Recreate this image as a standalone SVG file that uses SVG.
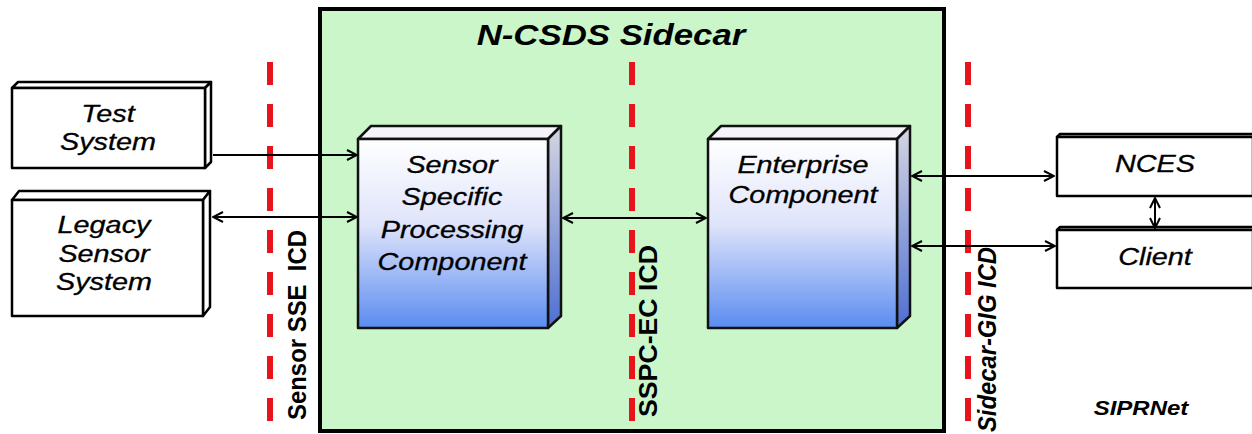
<svg xmlns="http://www.w3.org/2000/svg" width="1252" height="434" viewBox="0 0 1252 434">
  <defs>
    <linearGradient id="faceGrad" x1="0" y1="0" x2="0" y2="1">
      <stop offset="0" stop-color="#ffffff"/>
      <stop offset="0.45" stop-color="#dfe4fa"/>
      <stop offset="1" stop-color="#5a8cf0"/>
    </linearGradient>
    <linearGradient id="sideGrad" x1="0" y1="0" x2="0" y2="1">
      <stop offset="0" stop-color="#d6d6e2"/>
      <stop offset="1" stop-color="#4e6fd2"/>
    </linearGradient>
    <marker id="arrow" viewBox="0 0 12 12" refX="11" refY="6" markerWidth="12" markerHeight="12" markerUnits="userSpaceOnUse" orient="auto-start-reverse">
      <path d="M1,1 L11,6 L1,11" fill="none" stroke="#000" stroke-width="2"/>
    </marker>
    <style>
      .box { fill: #ffffff; stroke: #000; stroke-width: 2.5; stroke-linejoin: round; }
      .comp { fill: url(#faceGrad); stroke: #111; stroke-width: 2.5; stroke-linejoin: round; }
      .compTop { fill: #f4f4fa; stroke: #111; stroke-width: 2.5; stroke-linejoin: round; }
      .compSide { fill: url(#sideGrad); stroke: #111; stroke-width: 2.5; stroke-linejoin: round; }
      .lbl { font-family: "Liberation Sans", Arial, sans-serif; font-style: italic; font-size: 24px; text-anchor: middle; fill: #000; stroke: #000; stroke-width: 0.3; }
      .title { font-family: "Liberation Sans", Arial, sans-serif; font-style: italic; font-weight: bold; font-size: 29px; text-anchor: middle; fill: #000; }
      .icd { font-family: "Liberation Sans", Arial, sans-serif; font-weight: bold; font-size: 22px; fill: #000; }
      .icdi { font-family: "Liberation Sans", Arial, sans-serif; font-weight: bold; font-style: italic; font-size: 22px; fill: #000; }
      .net { font-family: "Liberation Sans", Arial, sans-serif; font-weight: bold; font-style: italic; font-size: 20px; text-anchor: middle; fill: #000; }
      .dash { stroke: #e8141c; stroke-width: 6; stroke-dasharray: 23 19; fill: none; }
      .conn { stroke: #000; stroke-width: 2; fill: none; marker-end: url(#arrow); }
      .both { marker-start: url(#arrow); }
    </style>
  </defs>

  <rect width="1252" height="434" fill="#ffffff"/>

  <!-- Sidecar container -->
  <g id="sidecar">
    <rect x="320" y="9" width="624" height="422" fill="#caf6ca" stroke="#000" stroke-width="4"/>
    <text class="title" transform="translate(611,45) scale(1.2,1)">N-CSDS Sidecar</text>
  </g>

  <!-- Interface boundaries -->
  <g id="boundaries">
    <line class="dash" x1="270" y1="62" x2="270" y2="421"/>
    <line class="dash" x1="632" y1="62" x2="632" y2="421"/>
    <line class="dash" x1="968" y1="62" x2="968" y2="421"/>
    <text class="icd" transform="translate(306,420) scale(1.2,1) rotate(-90)" xml:space="preserve" textLength="190" lengthAdjust="spacingAndGlyphs">Sensor SSE  ICD</text>
    <text class="icd" transform="translate(657,417) scale(1.2,1) rotate(-90)" textLength="172" lengthAdjust="spacingAndGlyphs">SSPC-EC ICD</text>
    <text class="icdi" transform="translate(996,432) scale(1.2,1) rotate(-90)" textLength="185" lengthAdjust="spacingAndGlyphs">Sidecar-GIG ICD</text>
  </g>

  <g id="test-system">
    <polygon class="box" points="12,88 18,82 211,82 205,88"/>
    <polygon class="box" points="205,88 211,82 211,162 205,168"/>
    <rect class="box" x="12" y="88" width="193" height="80"/>
    <text class="lbl" transform="translate(108,122) scale(1.2,1)">Test</text>
    <text class="lbl" transform="translate(108,150) scale(1.2,1)">System</text>
  </g>

  <g id="legacy-sensor-system">
    <polygon class="box" points="12,200 19,191 210,191 203,200"/>
    <polygon class="box" points="203,200 210,191 210,307 203,316"/>
    <rect class="box" x="12" y="200" width="191" height="116"/>
    <text class="lbl" transform="translate(104,233) scale(1.2,1)">Legacy</text>
    <text class="lbl" transform="translate(104,262) scale(1.2,1)">Sensor</text>
    <text class="lbl" transform="translate(104,290) scale(1.2,1)">System</text>
  </g>

  <g id="sspc">
    <polygon class="compTop" points="358,139 371,126 561,126 548,139"/>
    <polygon class="compSide" points="548,139 561,126 561,316 548,328"/>
    <rect class="comp" x="358" y="139" width="190" height="189"/>
    <text class="lbl" transform="translate(452,173) scale(1.2,1)">Sensor</text>
    <text class="lbl" transform="translate(452,205) scale(1.2,1)">Specific</text>
    <text class="lbl" transform="translate(452,238) scale(1.2,1)">Processing</text>
    <text class="lbl" transform="translate(452,270) scale(1.2,1)">Component</text>
  </g>

  <g id="enterprise">
    <polygon class="compTop" points="708,139 721,126 910,126 897,139"/>
    <polygon class="compSide" points="897,139 910,126 910,316 897,328"/>
    <rect class="comp" x="708" y="139" width="189" height="189"/>
    <text class="lbl" transform="translate(803,173) scale(1.2,1)">Enterprise</text>
    <text class="lbl" transform="translate(803,203) scale(1.2,1)">Component</text>
  </g>

  <g id="nces">
    <polygon class="box" points="1057,137 1060,134 1256,134 1253,137"/>
    <rect class="box" x="1057" y="137" width="196" height="59"/>
    <text class="lbl" transform="translate(1155,172) scale(1.2,1)">NCES</text>
  </g>

  <g id="client">
    <polygon class="box" points="1057,230 1060,227 1256,227 1253,230"/>
    <rect class="box" x="1057" y="230" width="196" height="58"/>
    <text class="lbl" transform="translate(1155,265) scale(1.2,1)">Client</text>
  </g>

  <g id="siprnet">
    <text class="net" transform="translate(1141,415) scale(1.2,1)">SIPRNet</text>
  </g>

  <!-- Connectors -->
  <g id="connectors">
    <line class="conn" x1="213" y1="155" x2="357" y2="155"/>
    <line class="conn both" x1="213" y1="217" x2="357" y2="217"/>
    <line class="conn both" x1="563" y1="218" x2="706" y2="218"/>
    <line class="conn both" x1="912" y1="176" x2="1054" y2="176"/>
    <line class="conn both" x1="912" y1="246" x2="1055" y2="246"/>
    <line class="conn both" x1="1155" y1="198" x2="1155" y2="228"/>
  </g>
</svg>
